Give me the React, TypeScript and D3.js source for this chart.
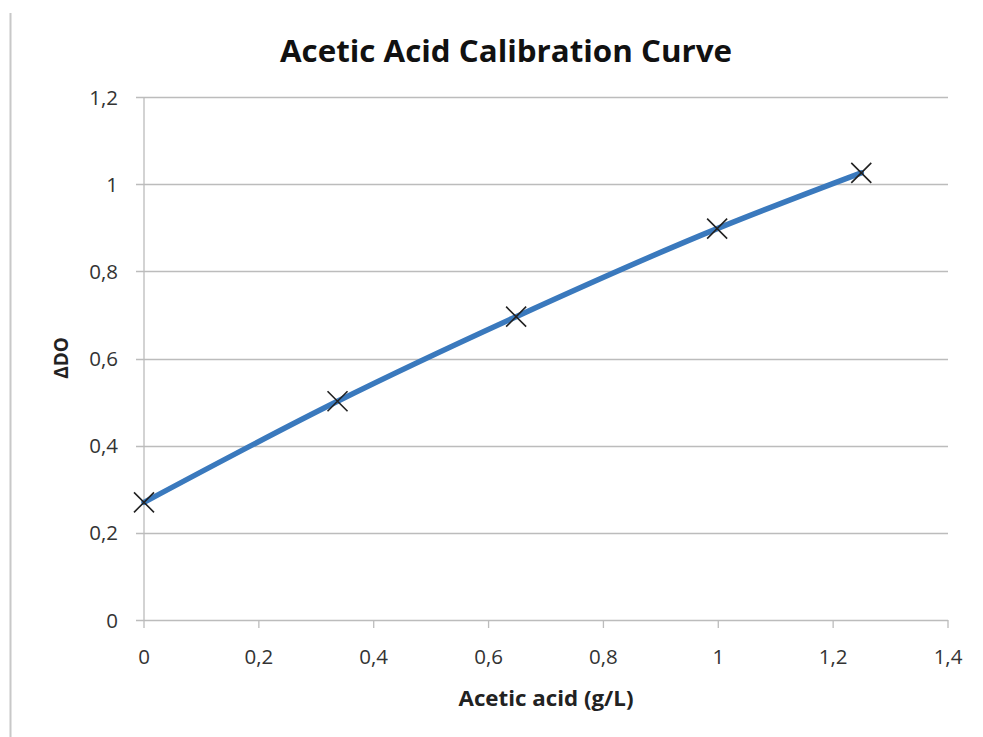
import React, { useEffect, useRef } from 'react';
import * as d3 from 'd3';

const acid = [0, 0.337, 0.648, 0.998, 1.249];
const deltaDO = [0.27, 0.502, 0.696, 0.898, 1.026];
const xTicks = [0, 0.2, 0.4, 0.6, 0.8, 1, 1.2, 1.4];
const yTicks = [0, 0.2, 0.4, 0.6, 0.8, 1, 1.2];

const fmt = (v: number) => String(v).replace('.', ',');

const App: React.FC = () => {
  const ref = useRef<SVGSVGElement>(null);

  useEffect(() => {
    if (!ref.current) return;
    const svg = d3.select(ref.current);
    svg.selectAll('*').remove();

    const left = 144, right = 948, top = 97, bottom = 620;
    const font = "'Open Sans', sans-serif";

    const x = d3.scaleLinear().domain([0, 1.4]).range([left, right]);
    const y = d3.scaleLinear().domain([0, 1.2]).range([bottom, top]);

    // frame line on the left edge
    svg.append('line')
      .attr('x1', 10.5).attr('x2', 10.5)
      .attr('y1', 13).attr('y2', 737)
      .attr('stroke', '#c8c8c8').attr('stroke-width', 2);

    // horizontal gridlines with outward ticks
    svg.append('g')
      .selectAll('line')
      .data(yTicks)
      .join('line')
      .attr('x1', left - 8).attr('x2', right)
      .attr('y1', d => Math.round(y(d)) + 0.5)
      .attr('y2', d => Math.round(y(d)) + 0.5)
      .attr('stroke', '#bcbcbc').attr('stroke-width', 1.3);

    // y axis line
    svg.append('line')
      .attr('x1', left).attr('x2', left)
      .attr('y1', top).attr('y2', bottom)
      .attr('stroke', '#bcbcbc').attr('stroke-width', 1.3);

    // x ticks
    svg.append('g')
      .selectAll('line')
      .data(xTicks)
      .join('line')
      .attr('x1', d => x(d)).attr('x2', d => x(d))
      .attr('y1', bottom).attr('y2', bottom + 8)
      .attr('stroke', '#bcbcbc').attr('stroke-width', 1.3);

    // tick labels
    svg.append('g')
      .selectAll('text')
      .data(yTicks)
      .join('text')
      .attr('x', 118)
      .attr('y', d => y(d) + 7.5)
      .attr('text-anchor', 'end')
      .attr('font-family', font)
      .attr('font-size', 20.5)
      .attr('fill', '#333')
      .text(d => fmt(d));

    svg.append('g')
      .selectAll('text')
      .data(xTicks)
      .join('text')
      .attr('x', d => x(d))
      .attr('y', 664)
      .attr('text-anchor', 'middle')
      .attr('font-family', font)
      .attr('font-size', 20.5)
      .attr('fill', '#333')
      .text(d => fmt(d));

    // title and axis titles
    svg.append('text')
      .attr('x', 506).attr('y', 62)
      .attr('text-anchor', 'middle')
      .attr('font-family', font)
      .attr('font-size', 30)
      .attr('font-weight', 'bold')
      .attr('fill', '#111')
      .attr('textLength', 452)
      .attr('lengthAdjust', 'spacingAndGlyphs')
      .text('Acetic Acid Calibration Curve');

    svg.append('text')
      .attr('x', 546).attr('y', 706)
      .attr('text-anchor', 'middle')
      .attr('font-family', font)
      .attr('font-size', 21)
      .attr('font-weight', 'bold')
      .attr('fill', '#222')
      .attr('textLength', 175)
      .attr('lengthAdjust', 'spacingAndGlyphs')
      .text('Acetic acid (g/L)');

    svg.append('text')
      .attr('transform', 'translate(68,358) rotate(-90)')
      .attr('text-anchor', 'middle')
      .attr('font-family', font)
      .attr('font-size', 19)
      .attr('font-weight', 'bold')
      .attr('fill', '#222')
      .text('ΔDO');

    const pts = acid.map((a, i) => [a, deltaDO[i]] as [number, number]);

    const line = d3.line<[number, number]>()
      .x(d => x(d[0]))
      .y(d => y(d[1]))
      .curve(d3.curveMonotoneX);

    svg.append('path')
      .datum(pts)
      .attr('fill', 'none')
      .attr('stroke', '#3a79bd')
      .attr('stroke-width', 5.5)
      .attr('stroke-linecap', 'round')
      .attr('d', line);

    const s = 10;
    svg.append('g')
      .selectAll('path')
      .data(pts)
      .join('path')
      .attr('d', d => {
        const cx = x(d[0]), cy = y(d[1]);
        return `M${cx - s},${cy - s}L${cx + s},${cy + s}M${cx - s},${cy + s}L${cx + s},${cy - s}`;
      })
      .attr('stroke', '#222')
      .attr('stroke-width', 1.6)
      .attr('fill', 'none');
  }, []);

  return <svg ref={ref} width={983} height={737} style={{ position: 'absolute', left: 0, top: 0 }} />;
};

export default App;
